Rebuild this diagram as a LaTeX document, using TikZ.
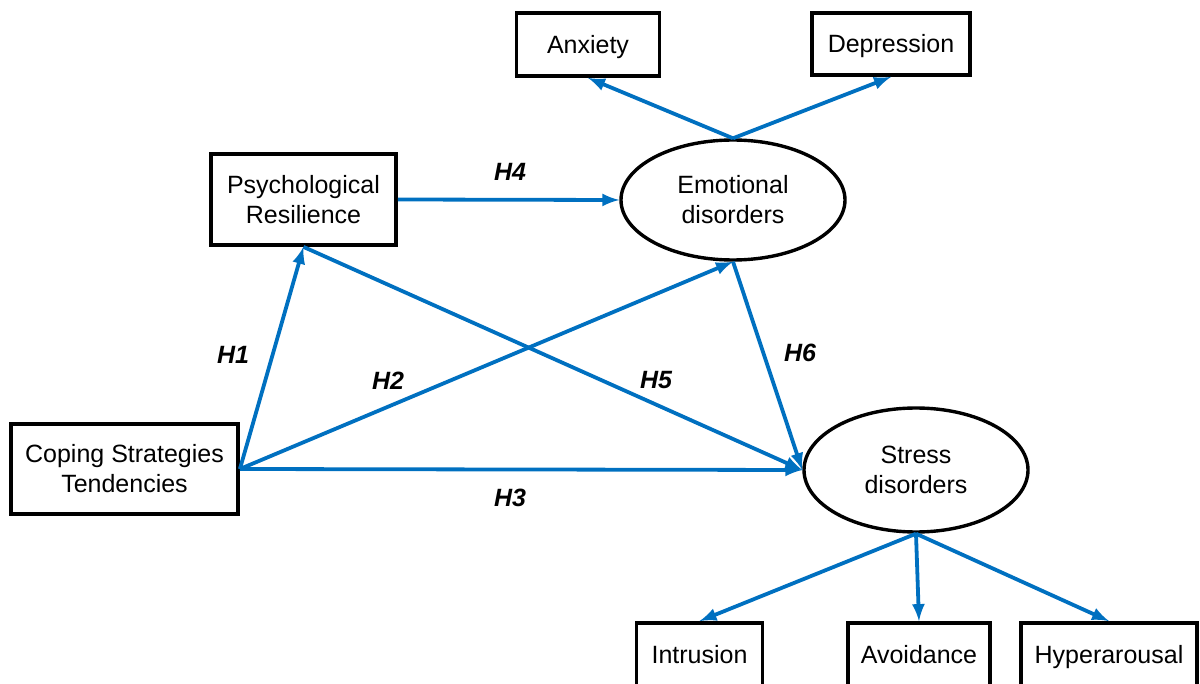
\documentclass[tikz,border=0pt]{standalone}
\usepackage{fontspec}
\setmainfont{Liberation Sans}
\usetikzlibrary{arrows,shapes.geometric}
\definecolor{linkblue}{RGB}{0,112,192}
\tikzset{
  var/.style={draw,line width=1.9pt,align=center,inner sep=0pt,
    font=\fontsize{12.5}{15}\selectfont},
  single/.style={var,text height=9pt,text depth=0pt},
  latent/.style={var,ellipse,line width=1.7pt},
  hyp/.style={font=\fontsize{12.5}{15}\selectfont\bfseries\itshape},
  link/.style={-latex,linkblue,line width=1.9pt}
}

\begin{document}
\begin{tikzpicture}[x=0.5pt,y=-0.5pt]
\clip (0,0) rectangle (1200,684);
% observed and latent variables
\node[single,minimum width=71.5pt,minimum height=31.5pt] (anx) at (588,44.5) {Anxiety};
\node[single,minimum width=79pt,minimum height=31pt] (dep) at (891,44) {Depression};
\node[var,minimum width=92.5pt,minimum height=45.5pt] (psy) at (303.5,199.5) {Psychological\\Resilience};
\node[latent,minimum width=112pt,minimum height=60pt] (emo) at (733,200) {Emotional\\disorders};
\node[var,minimum width=113.5pt,minimum height=45pt] (cop) at (124.5,469) {Coping Strategies\\Tendencies};
\node[latent,minimum width=112pt,minimum height=62pt] (str) at (916,470) {Stress\\disorders};
\node[single,minimum width=63pt,minimum height=31.5pt] (int) at (699.5,654.5) {Intrusion};
\node[single,minimum width=71pt,minimum height=31.5pt] (avo) at (919,654.5) {Avoidance};
\node[single,minimum width=88pt,minimum height=31.5pt] (hyr) at (1109,654.5) {Hyperarousal};
% paths
\draw[link] (emo.north)--(anx.south);
\draw[link] (emo.north)--(dep.south);
\draw[link] (psy.east)--(emo.west);
\draw[link] (cop.east)--(psy.south);
\draw[link] (cop.east)--(emo.south);
\draw[link] (cop.east)--(str.west);
\draw[link] (psy.south)--(str.west);
\draw[link] (emo.south)--(str.west);
\draw[link] (str.south)--(int.north);
\draw[link] (str.south)--(avo.north);
\draw[link] (str.south)--(hyr.north);
% hypotheses
\node[hyp] (h1) at (233,355) {H1};
\node[hyp] (h2) at (388,381) {H2};
\node[hyp] (h3) at (510,498) {H3};
\node[hyp] (h4) at (510,172) {H4};
\node[hyp] (h5) at (656,380) {H5};
\node[hyp] (h6) at (800,353) {H6};
\end{tikzpicture}
\end{document}
